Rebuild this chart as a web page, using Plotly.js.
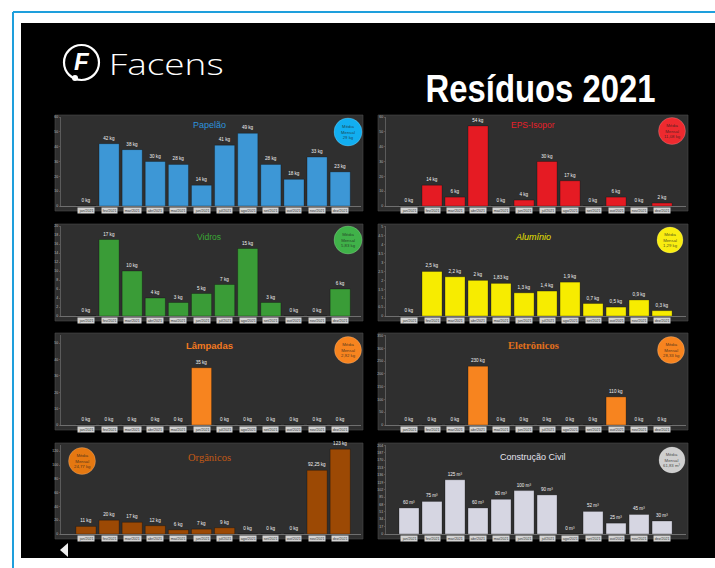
<!DOCTYPE html>
<html>
<head>
<meta charset="utf-8">
<script src="https://cdn.plot.ly/plotly-3.0.1.min.js"></script>
<style>
html,body{margin:0;padding:0;background:#fff;}
#chart{width:715px;height:568px;}
</style>
</head>
<body>
<div id="chart"></div>
<script>
// ---------- DATA ----------
const months = ['jan/2021','fev/2021','mar/2021','abr/2021','mai/2021','jun/2021','jul/2021','ago/2021','set/2021','out/2021','nov/2021','dez/2021'];
const papelao     = [0, 42, 38, 30, 28, 14, 41, 49, 28, 18, 33, 23];
const epsIsopor   = [0, 14, 6, 54, 0, 4, 30, 17, 0, 6, 0, 2];
const vidros      = [0, 17, 10, 4, 3, 5, 7, 15, 3, 0, 0, 6];
const aluminio    = [0, 2.5, 2.2, 2, 1.83, 1.3, 1.4, 1.9, 0.7, 0.5, 0.9, 0.3];
const lampadas    = [0, 0, 0, 0, 0, 35, 0, 0, 0, 0, 0, 0];
const eletronicos = [0, 0, 0, 230, 0, 0, 0, 0, 0, 110, 0, 0];
const organicos   = [11, 20, 17, 12, 6, 7, 9, 0, 0, 0, 92.25, 123];
const construcao  = [60, 75, 125, 60, 80, 100, 90, 0, 52, 25, 45, 30];
const panelTitles = ['Papelão','EPS-Isopor','Vidros','Alumínio','Lâmpadas','Eletrônicos','Orgânicos','Construção Civil'];
const units       = ['kg','kg','kg','kg','kg','kg','kg','m³'];
const mediaLabels = ['29 kg','11,08 kg','5,83 kg','1,29 kg','2,92 kg','28,33 kg','24,77 kg','61,83 m³'];
const pageTitle = 'Resíduos 2021';
const brand = 'Facens';

// ---------- LAYOUT HELPERS ----------
const W = 715, H = 568;
const fx = x => x / W;
const fy = y => 1 - y / H;

const seriesList = [papelao, epsIsopor, vidros, aluminio, lampadas, eletronicos, organicos, construcao];
const styles = [
  {bar:'#3d97d6', title:'#2e93dc', circle:'#12aef0', tfont:'Liberation Sans', tsize:9, tw:'normal', ts:'normal', yr:60, dt:10},
  {bar:'#e51b23', title:'#e8202a', circle:'#ee2a2f', tfont:'Liberation Sans', tsize:8.5, tw:'normal', ts:'normal', yr:60, dt:10},
  {bar:'#3a9c37', title:'#3aaa35', circle:'#40b249', tfont:'Liberation Sans', tsize:8.5, tw:'normal', ts:'normal', yr:20, dt:2},
  {bar:'#f7ec00', title:'#e8e000', circle:'#f9ed11', tfont:'Liberation Sans', tsize:9, tw:'normal', ts:'italic', yr:5.05, dt:0.5},
  {bar:'#f7841f', title:'#f47a20', circle:'#f7841f', tfont:'Liberation Sans', tsize:9.5, tw:'bold', ts:'normal', yr:55, dt:10},
  {bar:'#f7841f', title:'#e2701c', circle:'#f7841f', tfont:'Liberation Serif', tsize:10.5, tw:'bold', ts:'normal', yr:352, dt:50},
  {bar:'#9c4904', title:'#c35a15', circle:'#e57811', tfont:'Liberation Serif', tsize:10.5, tw:'normal', ts:'normal', yr:129, dt:20},
  {bar:'#d6d6e2', title:'#e4e4ee', circle:'#cfcfcf', tfont:'Liberation Sans', tsize:9, tw:'normal', ts:'normal', yr:205, dt:17}
];
// panel geometry (pixels)
const colX = [{p0:55, p1:363, a0:61, a1:361, r:[-1.08, 11.9], tx:209},
              {p0:378, p1:688, a0:386, a1:686, r:[-1.0, 12.04], tx:533}];
const rowY = [{top:115, base:206, bot:211}, {top:224, base:316, bot:321},
              {top:333, base:425, bot:430}, {top:443, base:534, bot:539}];
const titleY = [125, 237, 345, 457];
const circles = [[348,132,14],[672,131,13.5],[348,240,14],[670,240,13],[348,350,13.5],[671,350,13.5],[82,461,13.5],[672,460,13]];

const traces = [];
const shapes = [];
const annotations = [];
const layout = {
  width: W, height: H, autosize: false,
  margin: {l:0, r:0, t:0, b:0, pad:0},
  paper_bgcolor: '#ffffff',
  plot_bgcolor: 'rgba(0,0,0,0)',
  showlegend: false,
  bargap: 0.13,
  font: {family:'Liberation Sans, Arial, sans-serif', color:'#ddd'}
};

// background frame
shapes.push({type:'rect', xref:'paper', yref:'paper', x0:fx(21), x1:1.01, y0:fy(558), y1:fy(23), fillcolor:'#000', line:{width:0}, layer:'below'});
shapes.push({type:'line', xref:'paper', yref:'paper', x0:fx(13), x1:1, y0:fy(12), y1:fy(12), line:{color:'#1e9fdc', width:2}, layer:'below'});
shapes.push({type:'line', xref:'paper', yref:'paper', x0:fx(13), x1:fx(13), y0:fy(12), y1:0, line:{color:'#1e9fdc', width:2}, layer:'below'});
// back triangle
shapes.push({type:'path', xref:'paper', yref:'paper',
  path:`M ${fx(68)} ${fy(543)} L ${fx(60)} ${fy(550)} L ${fx(68)} ${fy(557)} Z`,
  fillcolor:'#f0f0f0', line:{width:0}});
// logo mark
shapes.push({type:'circle', xref:'paper', yref:'paper', x0:fx(64), x1:fx(99), y0:fy(80), y1:fy(45), line:{color:'#fff', width:2.2}, fillcolor:'rgba(0,0,0,0)'});
shapes.push({type:'circle', xref:'paper', yref:'paper', x0:fx(72), x1:fx(78), y0:fy(81), y1:fy(75), line:{width:0}, fillcolor:'#fff'});
annotations.push({xref:'paper', yref:'paper', x:fx(82), y:fy(62), text:'<b><i>F</i></b>', showarrow:false,
  font:{family:'Liberation Sans', size:24, color:'#fff'}, xanchor:'center', yanchor:'middle'});
annotations.push({xref:'paper', yref:'paper', x:fx(165.5), y:fy(64), text:brand, showarrow:false,
  font:{family:'Open Sans, Lato, sans-serif', size:29, color:'#fff', weight:300}, xanchor:'center', yanchor:'middle', name:'brand'});
annotations.push({xref:'paper', yref:'paper', x:fx(540), y:fy(88), text:pageTitle, showarrow:false,
  font:{family:'Liberation Sans, sans-serif', size:39, color:'#fff', weight:'bold'}, xanchor:'center', yanchor:'middle', name:'pagetitle'});

seriesList.forEach((vals, i) => {
  const n = i + 1;
  const col = colX[i % 2];
  const row = rowY[Math.floor(i / 2)];
  const st = styles[i];
  const xk = n === 1 ? 'xaxis' : 'xaxis' + n;
  const yk = n === 1 ? 'yaxis' : 'yaxis' + n;
  const xr = n === 1 ? 'x' : 'x' + n;
  const yr = n === 1 ? 'y' : 'y' + n;

  // panel background
  shapes.push({type:'rect', xref:'paper', yref:'paper', x0:fx(col.p0), x1:fx(col.p1), y0:fy(row.bot), y1:fy(row.top),
    fillcolor:'#2f2f2f', line:{color:'#4a4a4a', width:0.6}, layer:'below'});

  traces.push({
    type:'bar', x: months, y: vals, xaxis: xr, yaxis: yr,
    marker:{color: st.bar, line:{color:'rgba(0,0,0,0.45)', width:0.6}},
    text: vals.map(v => String(v).replace('.', ',') + ' ' + units[i]),
    textposition:'outside', cliponaxis:false, constraintext:'none',
    textfont:{size:4.6, color:'#f2f2f2', family:'Liberation Sans'},
    hoverinfo:'x+y'
  });

  layout[xk] = {domain:[fx(col.a0), fx(col.a1)], anchor: yr, type:'category', range: col.r,
    showgrid:false, zeroline:false, showticklabels:false, ticks:'',
    showline:true, linecolor:'#8a8a8a', linewidth:0.7, fixedrange:true};
  layout[yk] = {domain:[fy(row.base), fy(row.top + 2)], anchor: xr, range:[0, st.yr], dtick: st.dt,
    showgrid:false, zeroline:false, showline:true, linecolor:'#7a7a7a', linewidth:0.6,
    ticks:'outside', ticklen:1.5, tickcolor:'#7a7a7a', tickwidth:0.5,
    tickfont:{size:3.5, color:'#bbbbbb'}, fixedrange:true};

  // month boxes under bars
  months.forEach(m => {
    annotations.push({xref:xr, yref:yr, x:m, y:0, yshift:-1, text:m, showarrow:false,
      yanchor:'top', xanchor:'center', bgcolor:'#d4d4d4', borderpad:0.7,
      font:{size:3.6, color:'#333', family:'Liberation Sans'}});
  });

  // title
  annotations.push({xref:'paper', yref:'paper', x:fx(col.tx), y:fy(titleY[Math.floor(i/2)]), text: panelTitles[i],
    showarrow:false, xanchor:'center', yanchor:'middle',
    font:{family: st.tfont, size: st.tsize, color: st.title, weight: st.tw, style: st.ts}});

  // media circle
  const c = circles[i];
  shapes.push({type:'circle', xref:'paper', yref:'paper', x0:fx(c[0]-c[2]), x1:fx(c[0]+c[2]), y0:fy(c[1]+c[2]), y1:fy(c[1]-c[2]),
    fillcolor: st.circle, line:{color:'rgba(255,255,255,0.35)', width:0.5}});
  annotations.push({xref:'paper', yref:'paper', x:fx(c[0]), y:fy(c[1]), text:'Média<br>Mensal<br>' + mediaLabels[i],
    showarrow:false, xanchor:'center', yanchor:'middle', align:'center',
    font:{size:4.3, color:'rgba(30,30,30,0.8)', family:'Liberation Sans'}});
});

layout.shapes = shapes;
layout.annotations = annotations;

Plotly.newPlot('chart', traces, layout, {displayModeBar:false, staticPlot:true}).then(gd => {
  // condense the page title and widen the brand text to the reference widths
  gd.querySelectorAll('.annotation-text').forEach(t => {
    const s = t.textContent;
    if (s === pageTitle) { t.setAttribute('textLength', 230); t.setAttribute('lengthAdjust', 'spacingAndGlyphs'); }
    if (s === brand) { t.setAttribute('textLength', 115); t.setAttribute('lengthAdjust', 'spacingAndGlyphs'); }
  });
});
</script>
</body>
</html>
